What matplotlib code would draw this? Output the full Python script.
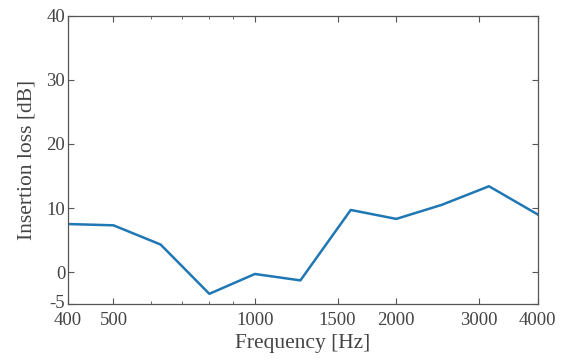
import matplotlib
matplotlib.use("Agg")
import matplotlib.pyplot as plt
from matplotlib.ticker import FixedLocator, NullFormatter
from matplotlib.transforms import ScaledTranslation

# 1/3-octave band centre frequencies and measured insertion loss
freqs = [400, 500, 630, 800, 1000, 1250, 1600, 2000, 2500, 3150, 4000]
insertion_loss = [7.5, 7.3, 4.3, -3.4, -0.3, -1.3, 9.7, 8.3, 10.5, 13.4, 9.0]

xticks = [400, 500, 1000, 1500, 2000, 3000, 4000]
yticks = [-5, 0, 10, 20, 30, 40]

plt.rcParams["font.family"] = ["Liberation Serif", "DejaVu Serif"]
plt.rcParams["font.size"] = 13.5
plt.rcParams["axes.unicode_minus"] = False

fig = plt.figure(figsize=(5.66, 3.62), dpi=100)
ax = fig.add_axes([0.12, 0.16, 0.83, 0.796])

ax.plot(freqs, insertion_loss, color="#1f77b4", lw=1.8)

ax.set_xscale("log")
ax.set_xlim(400, 4000)
ax.set_ylim(-5, 40)
ax.xaxis.set_major_locator(FixedLocator(xticks))
ax.xaxis.set_minor_locator(FixedLocator([600, 700, 800, 900, 2000, 3000]))
ax.xaxis.set_minor_formatter(NullFormatter())
ax.set_xticklabels([str(t) for t in xticks])
ax.set_yticks(yticks)

ax.tick_params(which="both", direction="in", top=True, right=True,
               color="#555555", labelcolor="#444444")
ax.tick_params(which="major", length=4)
ax.tick_params(axis="y", pad=2)
ax.tick_params(axis="x", pad=6)
ax.tick_params(which="minor", length=2.5)
for s in ax.spines.values():
    s.set_color("#555555")
    s.set_linewidth(0.9)

# lift the "-5" label slightly so it clears the "400" below it
lbl = ax.get_yticklabels()[0]
lbl.set_transform(lbl.get_transform() + ScaledTranslation(0, 2 / 72, fig.dpi_scale_trans))

ax.set_xlabel("Frequency [Hz]", fontsize=15.5, color="#444444", labelpad=3)
ax.set_ylabel("Insertion loss [dB]", fontsize=15.5, color="#444444", labelpad=7)

fig.savefig("out.png", dpi=100)
